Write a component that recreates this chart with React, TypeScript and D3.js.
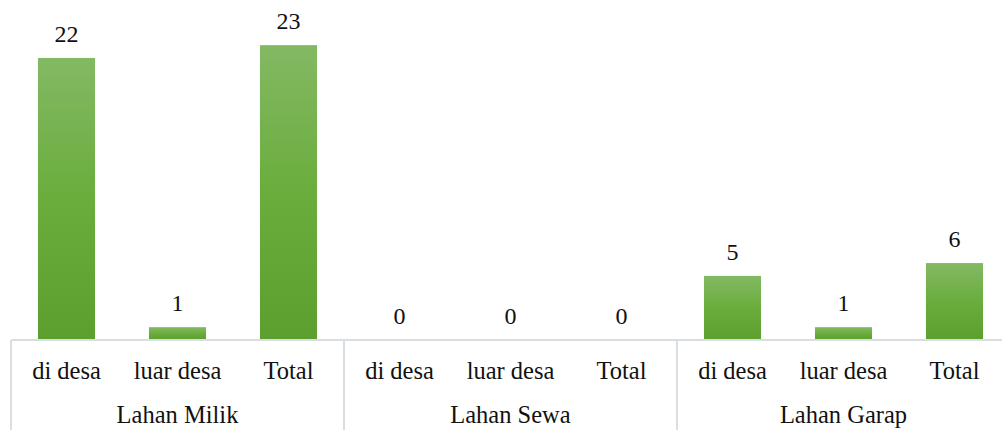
import React from "react";
import * as d3 from "d3";

const groups = ["Lahan Milik", "Lahan Sewa", "Lahan Garap"];
const subCategories = ["di desa", "luar desa", "Total"];
const values = [
  [22, 1, 23],
  [0, 0, 0],
  [5, 1, 6],
];
const yMax = 25;

const W = 1002;
const H = 430;
const plotLeft = 11;
const plotRight = 1010;
const plotTop = 19.5;
const baseY = 340;
const font = "'Liberation Serif', 'Times New Roman', serif";

export default function App() {
  const items = groups.flatMap((g, gi) =>
    subCategories.map((s, si) => ({ key: `${gi}-${si}`, group: g, sub: s, value: values[gi][si] }))
  );
  const x = d3
    .scaleBand<string>()
    .domain(items.map((d) => d.key))
    .range([plotLeft, plotRight])
    .paddingInner(0.486)
    .paddingOuter(0.243);
  const y = d3.scaleLinear().domain([0, yMax]).range([baseY, plotTop]);
  const step = x.step();
  const groupWidth = step * subCategories.length;
  const boundaries = d3.range(groups.length + 1).map((i) => plotLeft + i * groupWidth);

  return (
    <svg
      width={W}
      height={H}
      style={{ position: "absolute", left: 0, top: 0, background: "#fff" }}
    >
      <defs>
        <linearGradient id="barGrad" x1="0" y1="0" x2="0" y2="1">
          <stop offset="0%" stopColor="#83b964" />
          <stop offset="50%" stopColor="#6aad3c" />
          <stop offset="100%" stopColor="#5d9f2f" />
        </linearGradient>
      </defs>
      {items.map((d) => (
        <g key={d.key}>
          {d.value > 0 && (
            <rect
              x={x(d.key)}
              y={y(d.value)}
              width={x.bandwidth()}
              height={baseY - y(d.value)}
              fill="url(#barGrad)"
            />
          )}
          <text
            x={(x(d.key) as number) + x.bandwidth() / 2}
            y={y(d.value) - 16}
            textAnchor="middle"
            fontFamily={font}
            fontSize={24}
            fill="#111"
          >
            {d.value}
          </text>
          <text
            x={(x(d.key) as number) + x.bandwidth() / 2}
            y={379}
            textAnchor="middle"
            fontFamily={font}
            fontSize={24.5}
            fill="#111"
          >
            {d.sub}
          </text>
        </g>
      ))}
      <line x1={plotLeft} x2={plotRight} y1={baseY} y2={baseY} stroke="#d9dde4" strokeWidth={2} />
      {boundaries.map((bx, i) => (
        <line key={i} x1={bx} x2={bx} y1={baseY} y2={H} stroke="#d9dde4" strokeWidth={2} />
      ))}
      {groups.map((g, i) => (
        <text
          key={g}
          x={boundaries[i] + groupWidth / 2}
          y={423}
          textAnchor="middle"
          fontFamily={font}
          fontSize={24.5}
          fill="#111"
        >
          {g}
        </text>
      ))}
    </svg>
  );
}
